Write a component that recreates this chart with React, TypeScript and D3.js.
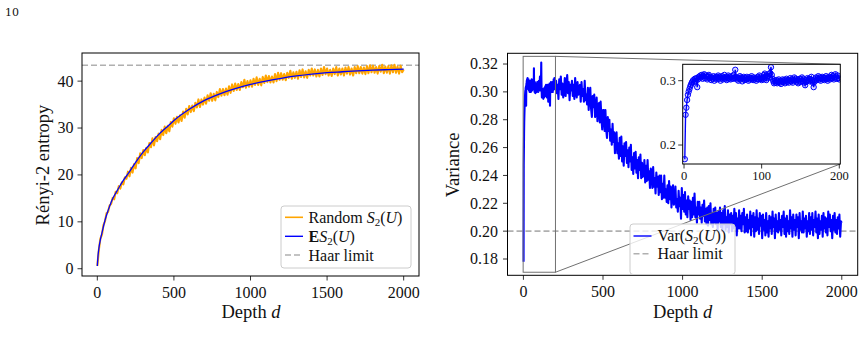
import React from "react";
import * as d3 from "d3";

// ---- data ----
// Rényi-2 entropy, one random circuit, every 10 layers (0..2000)
const entropyDepth = d3.range(0, 2001, 10);
const entropyRandom = [
  0.6, 4.0, 6.4, 7.2, 9.3, 10.1, 11.8, 12.1, 13.5, 13.8,
  15.1, 14.8, 16.4, 16.1, 17.6, 17.1, 18.4, 18.0, 19.5, 19.2,
  20.7, 19.7, 21.5, 20.5, 22.3, 21.4, 23.6, 22.5, 24.6, 23.6,
  25.3, 24.2, 25.8, 24.8, 26.8, 25.9, 27.8, 26.3, 28.1, 27.2,
  28.8, 27.6, 29.6, 28.5, 30.3, 28.9, 30.5, 29.3, 31.3, 30.3,
  32.1, 30.9, 32.4, 31.2, 32.7, 31.5, 33.5, 32.2, 34.1, 32.9,
  34.7, 33.4, 34.8, 33.6, 35.4, 34.4, 36.1, 34.5, 36.1, 35.0,
  36.5, 35.2, 37.0, 35.8, 37.4, 35.8, 37.3, 35.9, 37.7, 36.6,
  38.3, 36.9, 38.3, 37.0, 38.4, 37.1, 38.9, 37.5, 39.3, 37.9,
  39.5, 38.1, 39.4, 38.1, 39.8, 38.7, 40.3, 38.6, 40.0, 38.8,
  40.2, 38.8, 40.5, 39.2, 40.8, 39.2, 40.5, 39.1, 40.9, 39.6,
  41.2, 39.8, 41.1, 39.7, 41.0, 39.7, 41.5, 40.0, 41.8, 40.3,
  41.7, 40.3, 41.5, 40.2, 41.8, 40.7, 42.2, 40.5, 41.9, 40.7,
  42.0, 40.5, 42.3, 40.9, 42.5, 40.8, 42.1, 40.7, 42.4, 41.2,
  42.7, 41.2, 42.5, 41.0, 42.4, 41.0, 42.7, 41.3, 43.0, 41.5,
  42.7, 41.2, 42.4, 41.1, 42.7, 41.5, 43.0, 41.2, 42.7, 41.4,
  42.7, 41.2, 42.9, 41.6, 43.0, 41.4, 42.7, 41.2, 43.0, 41.7,
  43.2, 41.7, 43.0, 41.6, 42.9, 41.5, 43.2, 41.7, 43.4, 41.9,
  43.3, 41.8, 43.0, 41.6, 43.2, 42.0, 43.5, 41.7, 43.1, 41.8,
  43.2, 41.6, 43.4, 41.9, 43.5, 41.8, 43.1, 41.6, 43.3, 41.9,
  42.5,
];

// expected entropy E S2(U)
const meanDepth = [0, 5, 10, 20, 30, 40, 50, 60, 80, 100, 125, 150, 175, 200, 250, 300, 350, 400, 450, 500,
  600, 700, 800, 900, 1000, 1100, 1200, 1300, 1400, 1500, 1600, 1700, 1800, 1900, 2000];
const meanEntropy = [0.6, 2.9, 4.3, 6.2, 7.6, 9.0, 10.3, 11.4, 13.3, 14.9, 16.4, 17.8, 19.1, 20.2, 22.7, 24.9, 26.8, 28.6, 30.1, 31.6,
  34.0, 35.9, 37.3, 38.4, 39.3, 40.0, 40.6, 41.1, 41.5, 41.8, 42.0, 42.2, 42.35, 42.45, 42.55];

const haarEntropy = 43.4;
const haarVariance = 0.2;

// variance, every layer for d = 1..200 (also the inset)
const varFineDepth = d3.range(1, 201);
const varFine = [
  .178, .247, .258, .270, .278, .283, .287, .291, .294, .297,
  .299, .301, .298, .303, .300, .304, .290, .302, .306, .304,
  .308, .305, .309, .303, .307, .310, .304, .308, .306, .302,
  .307, .309, .304, .306, .301, .305, .303, .307, .300, .304,
  .306, .302, .305, .308, .303, .306, .300, .304, .307, .302,
  .305, .309, .303, .306, .301, .304, .308, .303, .306, .302,
  .305, .307, .303, .309, .304, .317, .305, .302, .305, .300,
  .304, .307, .302, .305, .299, .303, .306, .301, .304, .302,
  .306, .303, .300, .305, .302, .304, .307, .303, .301, .305,
  .302, .304, .300, .303, .306, .302, .308, .305, .303, .301,
  .304, .302, .309, .311, .307, .301, .304, .307, .310, .305,
  .312, .321, .309, .303, .299, .296, .300, .297, .301, .296,
  .299, .302, .297, .300, .295, .299, .302, .298, .301, .296,
  .300, .303, .298, .301, .297, .300, .304, .299, .302, .297,
  .301, .305, .300, .303, .298, .301, .296, .300, .303, .298,
  .302, .305, .299, .302, .297, .293, .298, .301, .304, .300,
  .303, .299, .302, .306, .301, .297, .290, .298, .302, .305,
  .301, .304, .307, .302, .305, .300, .304, .306, .302, .305,
  .301, .304, .307, .303, .300, .304, .306, .302, .305, .309,
  .304, .307, .302, .305, .310, .306, .303, .308, .304, .302,
];

// variance, every 5 layers for d = 205..2000
const varCoarseDepth = d3.range(205, 2001, 5);
const varCoarse = [
  .308, .299, .305, .295, .309, .302, .311, .298, .306, .296,
  .300, .310, .297, .304, .312, .299, .307, .294, .305, .301,
  .308, .297, .305, .295, .310, .300, .296, .307, .298, .303,
  .305, .293, .307, .297, .302, .293, .308, .294, .298, .291,
  .303, .287, .299, .303, .288, .282, .297, .289, .298, .282,
  .285, .296, .279, .289, .292, .278, .293, .281, .273, .287,
  .287, .272, .287, .273, .267, .282, .272, .280, .265, .273,
  .262, .277, .264, .271, .256, .268, .271, .256, .263, .252,
  .267, .254, .268, .250, .261, .247, .263, .254, .264, .249,
  .258, .246, .260, .250, .262, .244, .253, .241, .256, .245,
  .257, .242, .251, .238, .253, .244, .255, .238, .249, .239,
  .241, .251, .235, .247, .236, .251, .237, .243, .231, .245,
  .242, .231, .246, .232, .238, .227, .242, .232, .239, .226,
  .240, .228, .240, .223, .234, .224, .240, .224, .230, .221,
  .233, .220, .236, .223, .232, .217, .228, .233, .219, .222,
  .232, .217, .223, .214, .229, .218, .224, .209, .231, .216,
  .226, .214, .228, .212, .222, .210, .225, .216, .222, .208,
  .221, .210, .224, .212, .227, .210, .217, .206, .221, .212,
  .221, .209, .217, .206, .219, .211, .222, .207, .216, .205,
  .217, .204, .218, .208, .220, .205, .213, .203, .216, .206,
  .217, .205, .213, .201, .214, .207, .217, .203, .213, .200,
  .215, .205, .218, .201, .210, .203, .215, .199, .212, .205,
  .213, .200, .211, .202, .216, .204, .213, .197, .209, .202,
  .215, .202, .211, .200, .213, .205, .216, .199, .210, .200,
  .212, .199, .208, .202, .214, .197, .211, .203, .213, .196,
  .210, .200, .215, .201, .209, .198, .213, .204, .211, .195,
  .212, .201, .208, .197, .213, .199, .207, .196, .211, .202,
  .210, .198, .214, .203, .209, .195, .212, .200, .207, .199,
  .213, .201, .208, .197, .211, .203, .214, .198, .209, .196,
  .211, .200, .207, .198, .215, .202, .210, .196, .212, .201,
  .208, .197, .212, .203, .210, .195, .213, .201, .207, .199,
  .214, .199, .209, .202, .211, .196, .207, .200, .213, .198,
  .210, .201, .213, .197, .208, .203, .214, .199, .209, .195,
  .212, .198, .207, .201, .211, .196, .213, .202, .210, .199,
  .209, .197, .214, .203, .212, .200, .208, .195, .211, .201,
  .213, .199, .208, .198, .210, .202, .212, .196, .207, .206,
];

const depthTicks = [0, 500, 1000, 1500, 2000];
const entropyTicks = [0, 10, 20, 30, 40];
const varianceTicks = [0.18, 0.2, 0.22, 0.24, 0.26, 0.28, 0.3, 0.32];
const insetXTicks = [0, 100, 200];
const insetYTicks = [0.2, 0.3];

const serif = "'Liberation Serif', 'Times New Roman', serif";
const ORANGE = "#ffa500";
const BLUE = "#0000ff";
const HAAR = "#b0b0b0";

type Scale = d3.ScaleLinear<number, number>;

const Frame = ({ x, y }: { x: Scale; y: Scale }) => {
  const [x0, x1] = x.range();
  const [y0, y1] = y.range();
  return <rect x={x0} y={y1} width={x1 - x0} height={y0 - y1} fill="none" stroke="#000" strokeWidth={1} />;
};

const XAxis = ({ x, y, ticks, fmt, size, gap }: { x: Scale; y: Scale; ticks: number[]; fmt: (v: number) => string; size: number; gap: number }) => {
  const yb = y.range()[0];
  return (
    <g>
      {ticks.map((t) => (
        <g key={t}>
          <line x1={x(t)} x2={x(t)} y1={yb} y2={yb + 4.5} stroke="#000" strokeWidth={0.8} />
          <text x={x(t)} y={yb + gap} textAnchor="middle" fontSize={size}>{fmt(t)}</text>
        </g>
      ))}
    </g>
  );
};

const YAxis = ({ x, y, ticks, fmt, size, gap }: { x: Scale; y: Scale; ticks: number[]; fmt: (v: number) => string; size: number; gap: number }) => {
  const xl = x.range()[0];
  return (
    <g>
      {ticks.map((t) => (
        <g key={t}>
          <line x1={xl - 4.5} x2={xl} y1={y(t)} y2={y(t)} stroke="#000" strokeWidth={0.8} />
          <text x={xl - gap} y={y(t) + size * 0.34} textAnchor="end" fontSize={size}>{fmt(t)}</text>
        </g>
      ))}
    </g>
  );
};

const Sub2 = () => (
  <>
    <tspan dy={3} fontSize={11}>2</tspan>
    <tspan dy={-3}>(</tspan>
  </>
);

export default function App() {
  // left panel
  const xL = d3.scaleLinear().domain([-100, 2100]).range([82, 419]);
  const yL = d3.scaleLinear().domain([-1.55, 46.0]).range([276, 53]);
  // right panel
  const xR = d3.scaleLinear().domain([-100, 2100]).range([507.5, 857.7]);
  const yR = d3.scaleLinear().domain([0.1683, 0.3277]).range([275.3, 53.3]);
  // inset
  const xI = d3.scaleLinear().domain([-1.7, 201.3]).range([682.7, 840.3]);
  const yI = d3.scaleLinear().domain([0.1705, 0.3255]).range([164, 64.3]);

  const randomLine = d3.line<number>().x((_, i) => xL(entropyDepth[i])).y((v) => yL(v))(entropyRandom) || "";
  const meanLine = d3.line<number>().curve(d3.curveMonotoneX).x((_, i) => xL(meanDepth[i])).y((v) => yL(v))(meanEntropy) || "";

  const varDepth = varFineDepth.concat(varCoarseDepth);
  const varAll = varFine.concat(varCoarse);
  const varLine = d3.line<number>().x((_, i) => xR(varDepth[i])).y((v) => yR(v))(varAll) || "";
  const insetLine = d3.line<number>().x((_, i) => xI(varFineDepth[i])).y((v) => yI(v))(varFine) || "";

  // zoom box in main axes = inset limits
  const bx0 = xR(xI.domain()[0]);
  const bx1 = xR(xI.domain()[1]);
  const by0 = yR(yI.domain()[1]);
  const by1 = yR(yI.domain()[0]);
  const [ix0, ix1] = xI.range();
  const [iyb, iyt] = yI.range();

  const f2 = d3.format(".2f");
  const f1 = d3.format(".1f");
  const fi = (v: number) => String(v);

  return (
    <svg width={865} height={359} viewBox="0 0 865 359" style={{ display: "block", position: "absolute", left: 0, top: 0 }} fontFamily={serif} fill="#111">
      <defs>
        <clipPath id="clipL"><rect x={82} y={53} width={337} height={223} /></clipPath>
        <clipPath id="clipR"><rect x={507.5} y={53.3} width={350.2} height={222} /></clipPath>
        <clipPath id="clipI"><rect x={ix0} y={iyt} width={ix1 - ix0} height={iyb - iyt} /></clipPath>
      </defs>
      <rect width={865} height={359} fill="#fff" />
      <text x={5} y={16} fontSize={11} fontFamily="'DejaVu Serif', serif">10</text>

      {/* ---------- left: entropy ---------- */}
      <g clipPath="url(#clipL)">
        <line x1={82} x2={419} y1={yL(haarEntropy)} y2={yL(haarEntropy)} stroke={HAAR} strokeWidth={1.6} strokeDasharray="6,3" />
        <path d={randomLine} fill="none" stroke={ORANGE} strokeWidth={2.1} strokeLinejoin="round" />
        <path d={meanLine} fill="none" stroke={BLUE} strokeWidth={1.3} />
      </g>
      <Frame x={xL} y={yL} />
      <XAxis x={xL} y={yL} ticks={depthTicks} fmt={fi} size={16} gap={21.5} />
      <YAxis x={xL} y={yL} ticks={entropyTicks} fmt={fi} size={16} gap={8.5} />
      <text x={251} y={318} textAnchor="middle" fontSize={18.5}>Depth <tspan fontStyle="italic">d</tspan></text>
      <text transform="translate(49,165) rotate(-90)" textAnchor="middle" fontSize={18.5}>Rényi-2 entropy</text>

      <g fontSize={16}>
        <rect x={281} y={206} width={130} height={62} rx={3} fill="#fff" fillOpacity={0.8} stroke="#cccccc" strokeWidth={1} />
        <line x1={285} x2={303} y1={217.3} y2={217.3} stroke={ORANGE} strokeWidth={1.6} />
        <text x={308.5} y={222.5}>Random <tspan fontStyle="italic">S</tspan><Sub2 /><tspan fontStyle="italic">U</tspan>)</text>
        <line x1={285} x2={303} y1={236.3} y2={236.3} stroke={BLUE} strokeWidth={1.4} />
        <text x={308.5} y={241.5}><tspan fontWeight="bold">E</tspan><tspan fontStyle="italic">S</tspan><Sub2 /><tspan fontStyle="italic">U</tspan>)</text>
        <line x1={285} x2={303} y1={255} y2={255} stroke={HAAR} strokeWidth={1.6} strokeDasharray="6,3" />
        <text x={308.5} y={260.5}>Haar limit</text>
      </g>

      {/* ---------- right: variance ---------- */}
      <g clipPath="url(#clipR)">
        <line x1={507.5} x2={857.7} y1={yR(haarVariance)} y2={yR(haarVariance)} stroke={HAAR} strokeWidth={1.6} strokeDasharray="6,3" />
        <path d={varLine} fill="none" stroke={BLUE} strokeWidth={2.1} strokeLinejoin="round" />
      </g>
      <rect x={bx0} y={by0} width={bx1 - bx0} height={by1 - by0} fill="none" stroke="#707070" strokeWidth={1} />
      <line x1={bx1} y1={by0} x2={ix1} y2={iyt} stroke="#707070" strokeWidth={1} />
      <line x1={bx1} y1={by1} x2={ix1} y2={iyb} stroke="#707070" strokeWidth={1} />
      <Frame x={xR} y={yR} />
      <XAxis x={xR} y={yR} ticks={depthTicks} fmt={fi} size={16} gap={21.5} />
      <YAxis x={xR} y={yR} ticks={varianceTicks} fmt={f2} size={16} gap={9.5} />
      <text x={682.6} y={318} textAnchor="middle" fontSize={18.5}>Depth <tspan fontStyle="italic">d</tspan></text>
      <text transform="translate(459,165) rotate(-90)" textAnchor="middle" fontSize={18.5}>Variance</text>

      {/* inset */}
      <rect x={ix0} y={iyt} width={ix1 - ix0} height={iyb - iyt} fill="#fff" />
      <g clipPath="url(#clipI)">
        <path d={insetLine} fill="none" stroke={BLUE} strokeWidth={1.4} />
        {varFine.map((v, i) => (
          <circle key={i} cx={xI(varFineDepth[i])} cy={yI(v)} r={2.7} fill={BLUE} fillOpacity={0.15} stroke={BLUE} strokeWidth={1} />
        ))}
      </g>
      <Frame x={xI} y={yI} />
      <XAxis x={xI} y={yI} ticks={insetXTicks} fmt={fi} size={12.5} gap={16} />
      <YAxis x={xI} y={yI} ticks={insetYTicks} fmt={f1} size={12.5} gap={7} />

      <g fontSize={16}>
        <rect x={630} y={224} width={105} height={50.5} rx={3} fill="#fff" fillOpacity={0.8} stroke="#cccccc" strokeWidth={1} />
        <line x1={633.5} x2={651.5} y1={236} y2={236} stroke={BLUE} strokeWidth={1.4} />
        <text x={657.5} y={241}>Var(<tspan fontStyle="italic">S</tspan><Sub2 /><tspan fontStyle="italic">U</tspan>))</text>
        <line x1={633.5} x2={651.5} y1={253.7} y2={253.7} stroke={HAAR} strokeWidth={1.6} strokeDasharray="6,3" />
        <text x={657.5} y={259.2}>Haar limit</text>
      </g>
    </svg>
  );
}
